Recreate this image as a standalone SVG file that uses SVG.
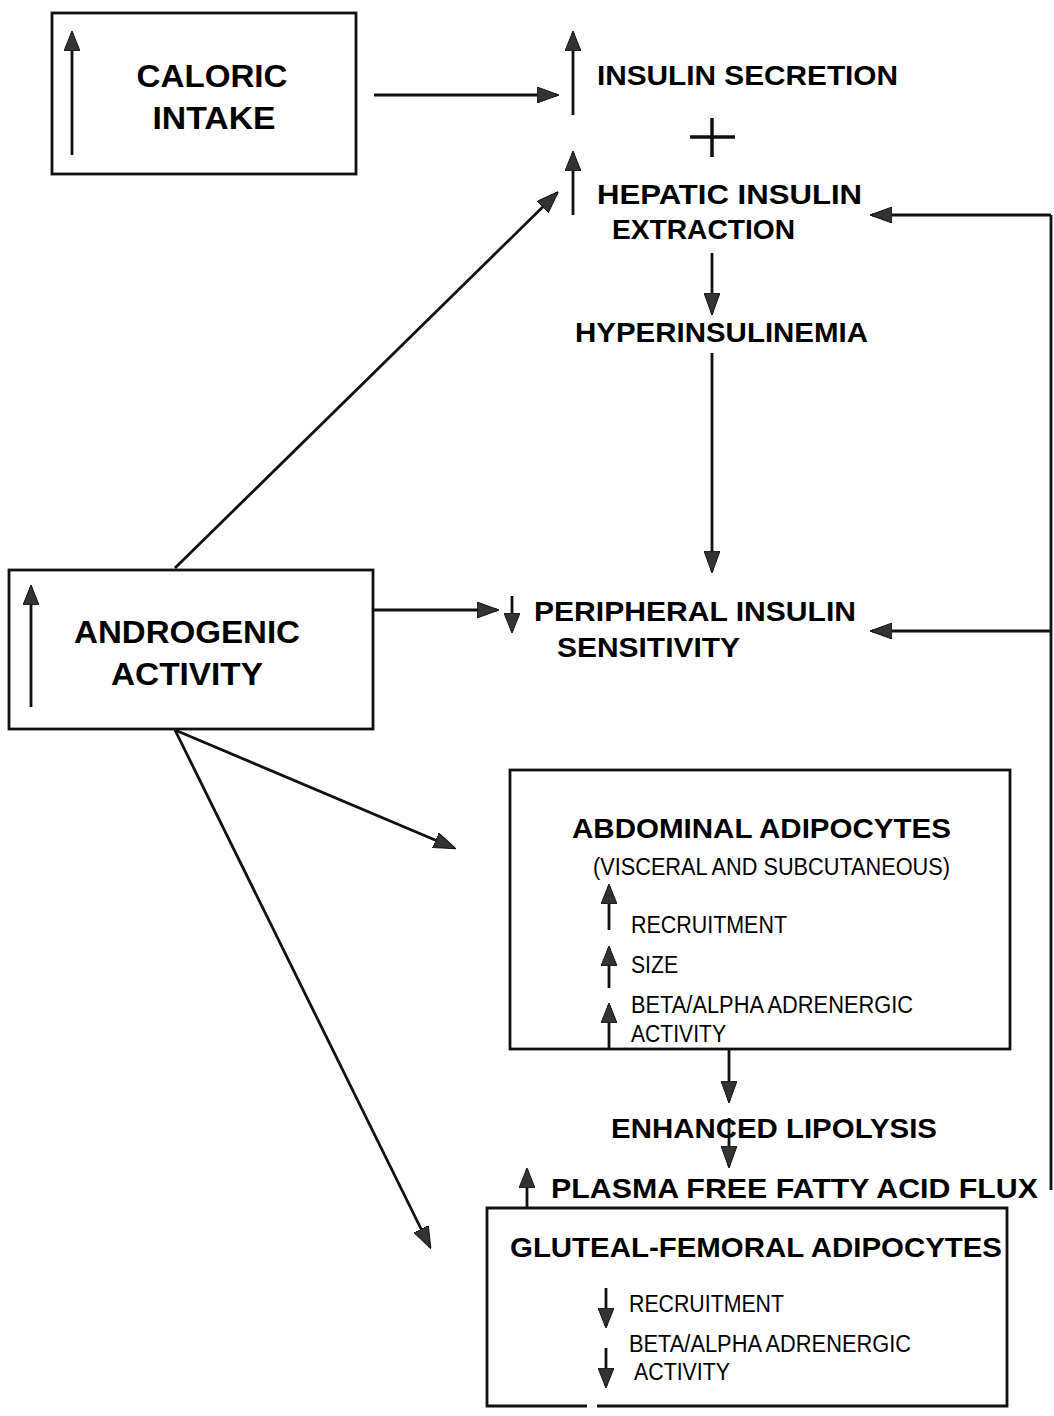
<svg xmlns="http://www.w3.org/2000/svg" width="1054" height="1416" viewBox="0 0 1054 1416">
<style>
.box{fill:none;stroke:#111;stroke-width:2.8}
.ln{fill:none;stroke:#111;stroke-width:2.8}
.ar{fill:none;stroke:#111;stroke-width:2.8;marker-end:url(#ah)}
.sa{fill:none;stroke:#111;stroke-width:2.8;marker-end:url(#sh)}
.b{font-family:"Liberation Sans",Arial,sans-serif;font-weight:bold;font-size:28px;fill:#000}
.bb{font-family:"Liberation Sans",Arial,sans-serif;font-weight:bold;font-size:32px;fill:#000}
.n{font-family:"Liberation Sans",Arial,sans-serif;font-size:23px;fill:#000}
</style>
<defs>
<marker id="ah" markerUnits="userSpaceOnUse" markerWidth="22" markerHeight="16" viewBox="0 0 22 16" refX="20" refY="8" orient="auto">
<path d="M0,0 L22,8 L0,16 Z" fill="#333" stroke="#111" stroke-width="1"/>
</marker>
<marker id="sh" markerUnits="userSpaceOnUse" markerWidth="20" markerHeight="16" viewBox="0 0 20 16" refX="18" refY="8" orient="auto">
<path d="M0,0 L20,8 L0,16 Z" fill="#333" stroke="#111" stroke-width="1"/>
</marker>
</defs>

<g id="caloric">
<rect class="box" x="52" y="13" width="304" height="161"/>
<line class="sa" x1="72" y1="155" x2="72" y2="33"/>
<text class="bb" x="212" y="87" text-anchor="middle" textLength="151" lengthAdjust="spacingAndGlyphs">CALORIC</text>
<text class="bb" x="214" y="129" text-anchor="middle" textLength="123" lengthAdjust="spacingAndGlyphs">INTAKE</text>
</g>

<g id="insulin-secretion">
<line class="sa" x1="573" y1="115" x2="573" y2="33"/>
<text class="b" x="597" y="85" textLength="301" lengthAdjust="spacingAndGlyphs">INSULIN  SECRETION</text>
</g>

<g id="plus">
<line class="ln" x1="690" y1="137" x2="735" y2="137" style="stroke-width:3.5"/>
<line class="ln" x1="712" y1="118" x2="712" y2="157" style="stroke-width:3.5"/>
</g>

<g id="hepatic">
<line class="sa" x1="573" y1="215" x2="573" y2="153"/>
<text class="b" x="597" y="204" textLength="265" lengthAdjust="spacingAndGlyphs">HEPATIC  INSULIN</text>
<text class="b" x="612" y="239" textLength="183" lengthAdjust="spacingAndGlyphs">EXTRACTION</text>
</g>

<g id="hyperinsulinemia">
<text class="b" x="575" y="342" textLength="293" lengthAdjust="spacingAndGlyphs">HYPERINSULINEMIA</text>
</g>

<g id="peripheral">
<line class="sa" x1="512" y1="596" x2="512" y2="631"/>
<text class="b" x="534" y="621" textLength="322" lengthAdjust="spacingAndGlyphs">PERIPHERAL  INSULIN</text>
<text class="b" x="557" y="657" textLength="183" lengthAdjust="spacingAndGlyphs">SENSITIVITY</text>
</g>

<g id="androgenic">
<rect class="box" x="9" y="570" width="364" height="159"/>
<line class="sa" x1="31" y1="707" x2="31" y2="587"/>
<text class="bb" x="187" y="643" text-anchor="middle" textLength="226" lengthAdjust="spacingAndGlyphs">ANDROGENIC</text>
<text class="bb" x="187" y="685" text-anchor="middle" textLength="152" lengthAdjust="spacingAndGlyphs">ACTIVITY</text>
</g>

<g id="abdominal">
<rect class="box" x="510" y="770" width="500" height="279"/>
<text class="b" x="572" y="838" textLength="379" lengthAdjust="spacingAndGlyphs">ABDOMINAL  ADIPOCYTES</text>
<text class="n" x="593" y="875" textLength="357" lengthAdjust="spacingAndGlyphs">(VISCERAL AND SUBCUTANEOUS)</text>
<line class="sa" x1="609" y1="930" x2="609" y2="886"/>
<text class="n" x="631" y="933" textLength="156" lengthAdjust="spacingAndGlyphs">RECRUITMENT</text>
<line class="sa" x1="609" y1="988" x2="609" y2="948"/>
<text class="n" x="631" y="973" textLength="47" lengthAdjust="spacingAndGlyphs">SIZE</text>
<line class="sa" x1="609" y1="1049" x2="609" y2="1005"/>
<text class="n" x="631" y="1013" textLength="282" lengthAdjust="spacingAndGlyphs">BETA/ALPHA ADRENERGIC</text>
<text class="n" x="631" y="1042" textLength="95" lengthAdjust="spacingAndGlyphs">ACTIVITY</text>
</g>

<g id="lipolysis">
<text class="b" x="611" y="1138" textLength="326" lengthAdjust="spacingAndGlyphs">ENHANCED  LIPOLYSIS</text>
</g>

<g id="ffa-flux">
<line class="sa" x1="527" y1="1208" x2="527" y2="1170"/>
<text class="b" x="551" y="1198" textLength="487" lengthAdjust="spacingAndGlyphs">PLASMA  FREE  FATTY  ACID  FLUX</text>
</g>

<g id="gluteal">
<path class="box" d="M587,1406 L487,1406 L487,1208 L1007,1208 L1007,1406 L597,1406"/>
<text class="b" x="510" y="1257" textLength="492" lengthAdjust="spacingAndGlyphs">GLUTEAL-FEMORAL  ADIPOCYTES</text>
<line class="sa" x1="606" y1="1288" x2="606" y2="1326"/>
<text class="n" x="629" y="1312" textLength="155" lengthAdjust="spacingAndGlyphs">RECRUITMENT</text>
<line class="sa" x1="606" y1="1348" x2="606" y2="1386"/>
<text class="n" x="629" y="1352" textLength="282" lengthAdjust="spacingAndGlyphs">BETA/ALPHA ADRENERGIC</text>
<text class="n" x="634" y="1380" textLength="96" lengthAdjust="spacingAndGlyphs">ACTIVITY</text>
</g>

<g id="connectors">
<line class="ar" x1="374" y1="95" x2="557" y2="95"/>
<line class="ar" x1="175" y1="568" x2="557" y2="193"/>
<line class="ar" x1="712" y1="253" x2="712" y2="313"/>
<line class="ar" x1="712" y1="353" x2="712" y2="571"/>
<line class="ar" x1="374" y1="610" x2="497" y2="610"/>
<line class="ar" x1="175" y1="730" x2="454" y2="848"/>
<line class="ar" x1="175" y1="730" x2="430" y2="1247"/>
<line class="ar" x1="729" y1="1049" x2="729" y2="1101"/>
<line class="ar" x1="729" y1="1118" x2="729" y2="1166"/>
<path class="ln" d="M1051,1190 L1051,215"/>
<line class="ar" x1="1051" y1="215" x2="872" y2="215"/>
<line class="ar" x1="1051" y1="631" x2="872" y2="631"/>
</g>
</svg>
